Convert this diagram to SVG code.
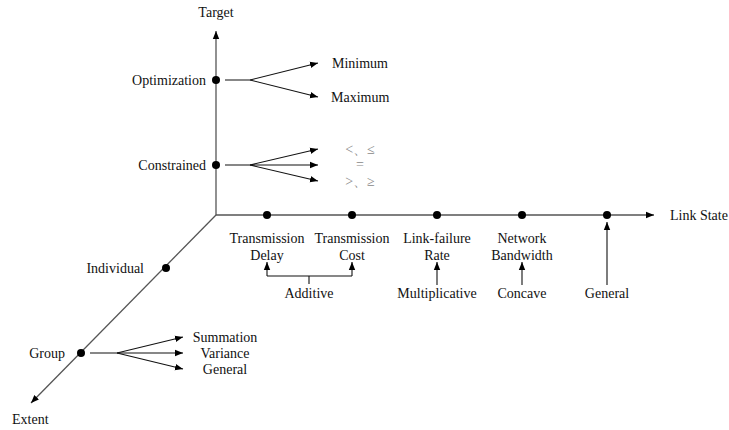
<svg xmlns="http://www.w3.org/2000/svg" width="729" height="430" viewBox="0 0 729 430">
<defs>
<marker id="ah" viewBox="0 0 10 10" refX="10" refY="5" markerWidth="8" markerHeight="8" markerUnits="userSpaceOnUse" orient="auto">
<path d="M0,1 L10,5 L0,9 z" fill="#000"/>
</marker>
</defs>
<style>
text{font-size:14px;fill:#111}
.m{text-anchor:middle}
.e{text-anchor:end}
.g{fill:#888}
.ax{stroke:#555;stroke-width:1.3;fill:none}
.ln{stroke:#111;stroke-width:1.1;fill:none}
.dot{fill:#000}
</style>
<rect width="729" height="430" fill="#fff"/>
<g id="connectors">
<path class="ax" d="M216,215 V31" marker-end="url(#ah)"/>
<path class="ax" d="M216,215 H654" marker-end="url(#ah)"/>
<path class="ax" d="M216,215 L31,403" marker-end="url(#ah)"/>
<path class="ln" d="M225,80 H250 L318,63" marker-end="url(#ah)"/>
<path class="ln" d="M250,80 L318,97" marker-end="url(#ah)"/>
<path class="ln" d="M225,165 H250 L318,149" marker-end="url(#ah)"/>
<path class="ln" d="M250,165 H318" marker-end="url(#ah)"/>
<path class="ln" d="M250,165 L318,181" marker-end="url(#ah)"/>
<path class="ln" d="M90,353 H117 L183,337" marker-end="url(#ah)"/>
<path class="ln" d="M117,353 H183" marker-end="url(#ah)"/>
<path class="ln" d="M117,353 L183,369" marker-end="url(#ah)"/>
<path class="ln" d="M309,284 V276 M267,276 H352"/>
<path class="ln" d="M267,276 V262" marker-end="url(#ah)"/>
<path class="ln" d="M352,276 V262" marker-end="url(#ah)"/>
<path class="ln" d="M437,285 V262" marker-end="url(#ah)"/>
<path class="ln" d="M522,285 V262" marker-end="url(#ah)"/>
<path class="ln" d="M607,285 V222" marker-end="url(#ah)"/>
</g>
<g font-family="'Liberation Serif', 'Times New Roman', 'DejaVu Serif', serif">
<g id="target"><text class="m" x="216" y="17">Target</text></g>
<g id="linkstate"><text x="670" y="220">Link State</text></g>
<g id="extent"><text x="12" y="424">Extent</text></g>
<g id="optimization"><circle class="dot" cx="216" cy="80" r="4"/><text class="e" x="206" y="85">Optimization</text></g>
<g id="minimum"><text x="332" y="68">Minimum</text></g>
<g id="maximum"><text x="331" y="102">Maximum</text></g>
<g id="constrained"><circle class="dot" cx="216" cy="165" r="4"/><text class="e" x="206" y="170">Constrained</text></g>
<g id="lt"><text class="m g" x="360" y="154">&lt;、≤</text></g>
<g id="eq"><text class="m g" x="360" y="169">=</text></g>
<g id="gt"><text class="m g" x="360" y="186">&gt;、≥</text></g>
<g id="individual"><circle class="dot" cx="166" cy="268" r="4"/><text class="e" x="144" y="273">Individual</text></g>
<g id="group"><circle class="dot" cx="81" cy="353" r="4"/><text class="e" x="65" y="358">Group</text></g>
<g id="summation"><text class="m" x="225" y="342">Summation</text></g>
<g id="variance"><text class="m" x="225" y="358">Variance</text></g>
<g id="general1"><text class="m" x="225" y="374">General</text></g>
<g id="delay"><circle class="dot" cx="267" cy="215" r="4"/><text class="m" x="267" y="243">Transmission</text><text class="m" x="267" y="260">Delay</text></g>
<g id="cost"><circle class="dot" cx="352" cy="215" r="4"/><text class="m" x="352" y="243">Transmission</text><text class="m" x="352" y="260">Cost</text></g>
<g id="rate"><circle class="dot" cx="437" cy="215" r="4"/><text class="m" x="437" y="243">Link-failure</text><text class="m" x="437" y="260">Rate</text></g>
<g id="bandwidth"><circle class="dot" cx="522" cy="215" r="4"/><text class="m" x="522" y="243">Network</text><text class="m" x="522" y="260">Bandwidth</text></g>
<g id="generalls"><circle class="dot" cx="607" cy="215" r="4"/></g>
<g id="additive"><text class="m" x="309" y="298">Additive</text></g>
<g id="multiplicative"><text class="m" x="437" y="298">Multiplicative</text></g>
<g id="concave"><text class="m" x="522" y="298">Concave</text></g>
<g id="general2"><text class="m" x="607" y="298">General</text></g>
</g>
</svg>
